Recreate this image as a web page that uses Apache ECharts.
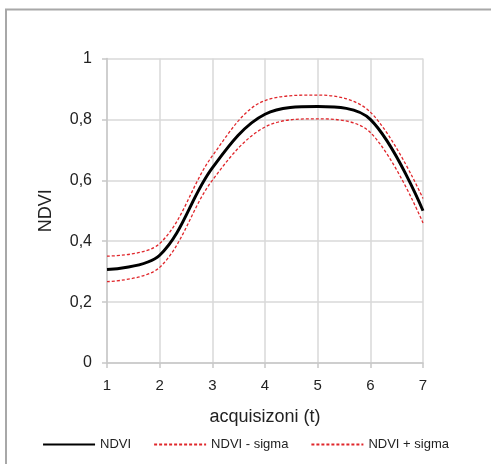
<!DOCTYPE html>
<html>
<head>
<meta charset="utf-8">
<script src="https://cdn.jsdelivr.net/npm/echarts@6/dist/echarts.min.js"></script>
<style>
html,body{margin:0;padding:0;background:#fff;}
#c{width:491px;height:464px;}
</style>
</head>
<body>
<div id="c"></div>
<script>
const xValues = [1, 2, 3, 4, 5, 6, 7];
const ndvi = [0.307, 0.354, 0.641, 0.817, 0.842, 0.800, 0.500];
const ndviMinusSigma = [0.267, 0.314, 0.600, 0.775, 0.802, 0.757, 0.460];
const ndviPlusSigma = [0.351, 0.392, 0.680, 0.862, 0.880, 0.824, 0.540];
const seriesNames = ['NDVI', 'NDVI - sigma', 'NDVI + sigma'];
const xAxisName = 'acquisizoni (t)';
const yAxisName = 'NDVI';

const pairs = arr => xValues.map((x, i) => [x, arr[i]]);
const font = 'Liberation Sans, Arial, sans-serif';
const red = '#e0262b';

const chart = echarts.init(document.getElementById('c'), null, {renderer: 'canvas'});
chart.setOption({
  animation: false,
  backgroundColor: '#fff',
  graphic: [{
    type: 'rect',
    shape: {x: 6, y: 9.5, width: 700, height: 700},
    style: {fill: 'none', stroke: '#a8a8a8', lineWidth: 2},
    silent: true,
    z: -10
  }],
  grid: {left: 107, right: 68, top: 58.5, bottom: 101, containLabel: false},
  xAxis: {
    type: 'value', min: 1, max: 7, interval: 1,
    name: xAxisName, nameLocation: 'middle', nameGap: 45,
    nameTextStyle: {fontFamily: font, fontSize: 18, color: '#222'},
    axisLine: {show: true, lineStyle: {color: '#c8c8c8', width: 1.5}},
    axisTick: {show: true, length: 5, lineStyle: {color: '#c8c8c8', width: 1.5}},
    axisLabel: {fontFamily: font, fontSize: 15, color: '#222', margin: 15},
    splitLine: {show: true, lineStyle: {color: '#d9d9d9', width: 1.5}}
  },
  yAxis: {
    type: 'value', min: 0, max: 1, interval: 0.2,
    name: yAxisName, nameLocation: 'middle', nameGap: 52, nameRotate: 90,
    nameTextStyle: {fontFamily: font, fontSize: 18, color: '#222'},
    axisLine: {show: true, lineStyle: {color: '#c8c8c8', width: 1.5}},
    axisTick: {show: true, length: 5, lineStyle: {color: '#c8c8c8', width: 1.5}},
    axisLabel: {fontFamily: font, fontSize: 16, color: '#222', margin: 15,
      formatter: v => String(Math.round(v * 10) / 10).replace('.', ',')},
    splitLine: {show: true, lineStyle: {color: '#d9d9d9', width: 1.5}}
  },
  legend: {
    bottom: 8, left: 'center',
    itemWidth: 52, itemHeight: 3, itemGap: 22,
    itemStyle: {opacity: 0},
    textStyle: {fontFamily: font, fontSize: 13, color: '#222'},
    data: seriesNames
  },
  series: [
    {name: seriesNames[0], type: 'line', data: pairs(ndvi), smooth: 0.35, showSymbol: false, symbol: 'none',
     lineStyle: {color: '#000', width: 3}, itemStyle: {color: '#000'}, z: 3},
    {name: seriesNames[1], type: 'line', data: pairs(ndviMinusSigma), smooth: 0.35, showSymbol: false, symbol: 'none',
     lineStyle: {color: red, width: 1.3, type: [3, 2]}, itemStyle: {color: red}, z: 2},
    {name: seriesNames[2], type: 'line', data: pairs(ndviPlusSigma), smooth: 0.35, showSymbol: false, symbol: 'none',
     lineStyle: {color: red, width: 1.3, type: [3, 2]}, itemStyle: {color: red}, z: 2}
  ]
});
</script>
</body>
</html>
